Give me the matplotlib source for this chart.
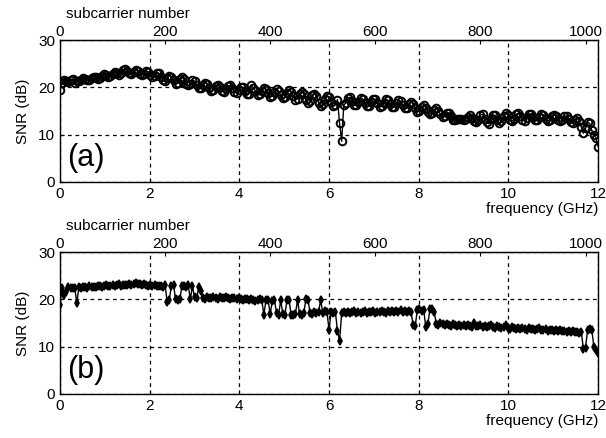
import numpy as np
import matplotlib
matplotlib.use("Agg")
import matplotlib.pyplot as plt

plt.rcParams['font.family'] = ['Liberation Sans', 'DejaVu Sans']

# subcarrier index of each measured point (every 4th subcarrier), 12 GHz over 1024 subcarriers
subcarrier = np.arange(0, 1025, 4)
freq_ghz = subcarrier * 12.0 / 1024

# SNR (dB)
snr_a = [
    19.4, 21.0, 21.6, 21.4, 21.2, 21.5, 21.8, 20.9, 21.4, 21.3, 21.6, 21.9, 21.8, 21.5, 21.6, 22.0,
    22.3, 22.1, 21.8, 22.0, 22.5, 22.8, 22.6, 22.2, 22.4, 22.9, 23.2, 23.0, 22.7, 23.0, 23.6, 23.8,
    23.5, 23.0, 22.9, 23.3, 23.7, 23.5, 22.9, 22.6, 22.9, 23.4, 23.3, 22.6, 22.2, 22.5, 23.1, 23.0,
    22.3, 21.5, 21.3, 21.9, 22.5, 22.3, 21.5, 20.8, 21.0, 21.8, 22.1, 21.7, 20.8, 20.4, 20.8, 21.6,
    21.3, 20.6, 19.9, 19.8, 20.4, 21.0, 20.7, 19.9, 19.3, 19.5, 20.3, 20.6, 20.1, 19.3, 19.0, 19.6,
    20.3, 20.4, 19.8, 19.0, 18.8, 19.4, 20.1, 20.0, 19.3, 18.6, 18.7, 20.5, 19.9, 19.2, 18.4, 18.5,
    19.3, 19.9, 19.6, 18.8, 18.0, 18.2, 19.1, 19.6, 19.2, 18.3, 17.7, 18.0, 18.9, 19.4, 19.0, 18.1,
    17.4, 17.6, 18.6, 19.1, 18.6, 17.4, 16.7, 17.1, 18.3, 18.7, 18.1, 16.8, 16.0, 16.5, 17.6, 18.2,
    17.9, 16.9, 16.0, 16.3, 17.4, 12.4, 8.6, 16.2, 16.8, 17.8, 17.9, 17.2, 16.3, 16.2, 17.0, 17.8,
    17.6, 16.8, 16.0, 16.1, 16.9, 17.6, 17.5, 16.7, 15.9, 16.0, 16.8, 17.5, 17.3, 16.5, 15.8, 15.9,
    16.7, 17.3, 17.1, 16.3, 15.6, 15.7, 16.4, 16.9, 16.5, 15.6, 14.9, 15.1, 15.9, 16.2, 15.7, 14.9,
    14.4, 14.6, 15.3, 15.6, 15.1, 14.3, 13.8, 14.0, 14.6, 14.6, 13.9, 13.2, 13.1, 13.3, 13.4, 13.3,
    13.2, 13.4, 13.8, 14.1, 13.6, 12.9, 12.6, 13.2, 14.2, 14.3, 13.4, 12.6, 12.3, 13.3, 14.2, 14.1,
    13.2, 12.5, 12.8, 14.0, 14.6, 14.2, 13.2, 12.9, 13.3, 14.3, 14.5, 13.9, 13.1, 12.9, 13.6, 14.4,
    14.4, 13.7, 13.0, 13.0, 13.8, 14.4, 14.2, 13.4, 12.9, 13.1, 13.9, 14.2, 13.9, 13.1, 12.8, 13.2,
    13.9, 14.0, 13.4, 12.6, 12.5, 13.2, 13.6, 12.9, 11.6, 10.3, 11.4, 12.6, 12.4, 10.9, 10.0, 9.3,
    7.5,
]

# SNR (dB)
snr_b = [
    18.9, 22.3, 21.0, 21.5, 22.6, 22.4, 22.5, 22.5, 19.2, 22.6, 22.4, 22.7, 22.6, 22.5, 22.8, 22.6,
    22.7, 22.6, 22.8, 22.9, 22.7, 22.8, 23.0, 22.8, 22.9, 23.1, 22.9, 23.0, 23.2, 22.9, 23.1, 23.0,
    23.1, 23.2, 23.0, 23.3, 23.5, 23.2, 23.3, 23.0, 23.2, 23.1, 22.9, 23.0, 22.8, 23.1, 22.9, 22.8,
    22.9, 22.7, 23.0, 19.4, 19.9, 22.9, 23.1, 20.0, 19.8, 20.0, 22.8, 22.9, 22.7, 23.0, 20.0, 22.8,
    20.4, 20.2, 22.6, 21.8, 20.3, 20.1, 20.4, 20.2, 20.3, 20.5, 20.2, 20.1, 20.4, 20.3, 20.2, 20.4,
    20.3, 20.1, 20.3, 20.2, 20.0, 20.2, 20.1, 19.9, 20.1, 20.0, 19.8, 20.0, 19.9, 19.7, 19.9, 20.0,
    19.8, 16.8, 19.9, 19.8, 16.9, 19.7, 19.9, 17.2, 16.8, 19.8, 17.0, 16.7, 19.9, 19.8, 16.6, 16.8,
    17.0, 19.8, 16.9, 16.7, 17.2, 20.1, 19.9, 17.1, 17.0, 17.3, 17.1, 17.4, 19.8, 17.2, 17.6, 17.3,
    13.6, 17.4, 17.2, 17.3, 13.4, 11.2, 17.1, 17.3, 17.2, 17.4, 17.1, 17.3, 17.5, 17.2, 17.3, 17.1,
    17.3, 17.5, 17.2, 17.4, 17.3, 17.6, 17.2, 17.4, 17.3, 17.5, 17.4, 17.2, 17.5, 17.3, 17.6, 17.4,
    17.5, 17.3, 17.7, 17.4, 17.6, 17.3, 17.5, 17.4, 14.6, 14.4, 17.8, 17.9, 17.6, 17.8, 14.2, 14.8,
    17.9, 18.0, 17.4, 14.8, 14.6, 14.9, 14.7, 14.5, 14.8, 14.6, 14.4, 14.7, 14.5, 14.3, 14.6, 14.4,
    14.5, 14.3, 14.6, 14.4, 14.2, 15.0, 14.4, 14.3, 14.5, 14.2, 14.4, 14.1, 14.3, 14.5, 14.2, 14.0,
    14.3, 14.1, 13.9, 14.2, 14.5, 14.0, 13.8, 14.1, 13.9, 13.8, 14.0, 13.7, 13.9, 13.8, 13.6, 13.9,
    13.7, 13.8, 13.5, 13.7, 13.9, 13.6, 13.5, 13.7, 13.4, 13.6, 13.5, 13.3, 13.6, 13.4, 13.5, 13.3,
    13.4, 13.2, 13.3, 13.1, 13.3, 13.0, 13.2, 12.9, 13.1, 9.6, 9.8, 13.5, 13.7, 13.6, 9.9, 9.3,
    8.7,
]

freq_ticks = [0, 2, 4, 6, 8, 10, 12]
snr_ticks = [0, 10, 20, 30]
sub_ticks = [0, 200, 400, 600, 800, 1000]

fig = plt.figure(figsize=(6.06, 4.38), dpi=100)
ax_a = fig.add_axes([0.099, 0.5845, 0.888, 0.324])
ax_b = fig.add_axes([0.099, 0.1005, 0.888, 0.324])

# axes, data, marker, face colour, marker size, edge width, tag
panels = [(ax_a, snr_a, 'o', 'none', 5.5, 1.4, '(a)'),
          (ax_b, snr_b, 'd', 'black', 3.8, 1.2, '(b)')]
for ax, snr, mk, mfc, ms, mew, tag in panels:
    ax.plot(freq_ghz, snr, color='black', lw=1.0, marker=mk, ms=ms,
            mfc=mfc, mec='black', mew=mew)
    ax.set_xlim(0, 12)
    ax.set_ylim(0, 30)
    ax.set_xticks(freq_ticks)
    ax.set_yticks(snr_ticks)
    ax.grid(True, color='black', linestyle=(0, (3, 3)), lw=0.9)
    ax.tick_params(direction='in', length=3, labelsize=11, color='black')
    for s in ax.spines.values():
        s.set_color('black')
        s.set_linewidth(1.0)
    ax.set_ylabel('SNR (dB)', fontsize=11, labelpad=6)
    ax.set_xlabel('frequency (GHz)', fontsize=11, loc='right', labelpad=1)
    ax.text(0.014, 0.11, tag, transform=ax.transAxes, fontsize=22)

    top = ax.secondary_xaxis('top', functions=(lambda f: f * 1024 / 12,
                                               lambda n: n * 12 / 1024))
    top.set_xticks(sub_ticks)
    top.tick_params(direction='in', length=3, labelsize=11, pad=1)
    top.set_xlabel('subcarrier number', fontsize=11, loc='left', labelpad=5)
    top.xaxis.get_label().set_x(0.012)

fig.savefig('out.png', dpi=100)
